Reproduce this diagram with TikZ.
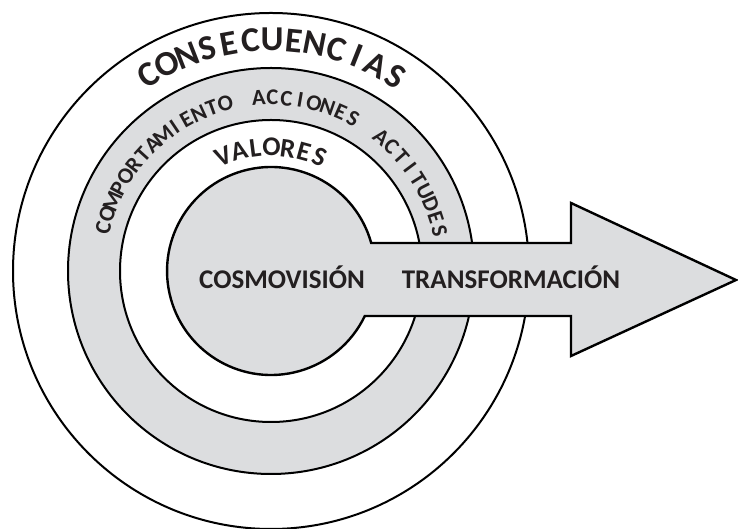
\documentclass[tikz,border=0pt]{standalone}
\usepackage{fontspec}
\setmainfont{Carlito}
\definecolor{ringgray}{HTML}{DCDDDF}
\definecolor{txt}{HTML}{231F20}
\newlength\arcW
\newlength\chw
\newlength\prew
\protected\def\spc{\hspace*{0.25em}}
\protected\def\nI{\kern-0.07em I\kern-0.07em}
% #1 font, #2 baseline radius, #3 start angle, #4 end angle, #5 letters, #6 name prefix
\newcommand\arcletters[6]{%
  \begingroup
  #1%
  \gdef\arcpre{}%
  \gdef\arcN{1}%
  \foreach \ch [count=\k] in {#5}{%
    \xdef\arcpre{\arcpre\ch}%
    \xdef\arcN{\k}}%
  \settowidth{\arcW}{\arcpre}%
  \pgfmathsetmacro\arcL{(#3-#4)*pi/180*#2}%
  \pgfmathsetmacro\arcT{(\arcL-\arcW)/(\arcN-1)}%
  \gdef\arcpre{}%
  \foreach \ch [count=\k] in {#5}{%
    \settowidth{\chw}{\ch}%
    \settowidth{\prew}{\arcpre}%
    \pgfmathsetmacro\ang{#3-(\prew+0.5*\chw+(\k-1)*\arcT)/#2*180/pi}%
    \path (C) ++(\ang:#2) node[font=#1, text=txt, anchor=base, inner sep=0pt, rotate=\ang-90, name=#6\k] {\ch};
    \xdef\arcpre{\arcpre\ch}}%
  \endgroup}
\begin{document}
\begin{tikzpicture}[x=1pt,y=1pt,
  ring/.style={circle, draw=black, line width=2pt, inner sep=0pt},
  bigtext/.style={font=\bfseries\fontsize{27}{27}\selectfont, text=txt, anchor=base, inner sep=0pt}
]
\useasboundingbox (0,0) rectangle (738,529);
\coordinate (C) at (271,258);
\node[ring, fill=white, minimum size=516pt] (outer) at (C) {};
\node[ring, fill=ringgray, minimum size=406pt] (mid) at (C) {};
\node[ring, fill=white, minimum size=302pt] (inner) at (C) {};
% core circle merged with arrow
\draw[fill=ringgray, line width=2.4pt, line join=miter]
  (371.2,286) arc[start angle=15.62, end angle=334.36, radius=104]
  -- (571,213) -- (571,173) -- (736,249) -- (571,326) -- (571,286) -- cycle;
\arcletters{\bfseries\fontsize{35}{35}\selectfont}{220}{122}{57.5}
  {C,O,N,S,E,C,U,E,N,C,\nI,A,S}{cons}
\arcletters{\bfseries\fontsize{22.5}{22.5}\selectfont}{166}{165.5}{13.5}
  {C,O,M,P,O,R,T,A,M,\nI,E,N,T,O,\spc,A,C,C,\nI,O,N,E,S,\spc,A,C,T,\nI,T,U,D,E,S}{comp}
\arcletters{\bfseries\fontsize{27}{27}\selectfont}{115}{112.5}{67}
  {V,A,L,O,R,E,S}{val}
\node[bigtext] (cosmo) at (282,240.3) {COSMOVISIÓN};
\node[bigtext] (trans) at (511,240.3) {TRANSFORMACIÓN};
\end{tikzpicture}
\end{document}
